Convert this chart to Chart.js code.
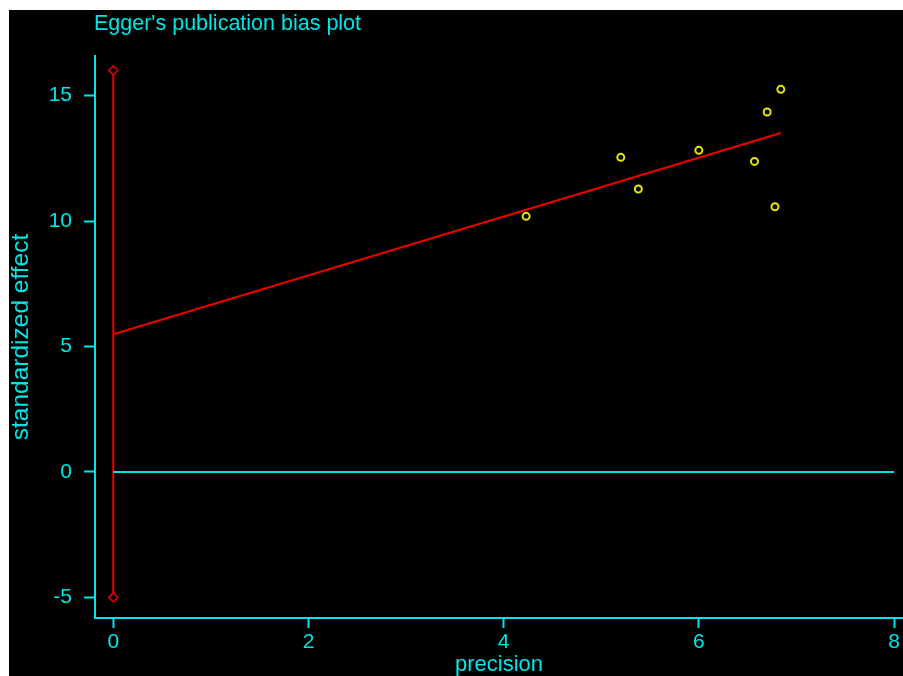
<!DOCTYPE html>
<html>
<head>
<meta charset="utf-8">
<script src="https://cdn.jsdelivr.net/npm/chart.js@4"></script>
<style>
  html, body { margin: 0; padding: 0; background: #ffffff; }
  #wrap { position: absolute; left: 9px; top: 10px; width: 894px; height: 666px; background: #000000; }
  canvas { display: block; }
</style>
</head>
<body>
<div id="wrap"><canvas id="egger" width="894" height="666"></canvas></div>
<script>
// studies: precision (x) and standardized effect (y)
const precision = [4.23, 5.20, 5.38, 6.00, 6.57, 6.70, 6.78, 6.84];
const standardizedEffect = [10.19, 12.54, 11.28, 12.82, 12.38, 14.35, 10.57, 15.25];

// fitted Egger regression line
const regressionX = [0, 6.84];
const regressionY = [5.49, 13.51];

// confidence interval of the intercept (vertical red line at x = 0)
const interceptCiX = [0, 0];
const interceptCiY = [-5, 16];

// reference line y = 0
const zeroLineX = [0, 8];
const zeroLineY = [0, 0];

const xTicks = [0, 2, 4, 6, 8];
const yTicks = [-5, 0, 5, 10, 15];

const CYAN = '#00e6e6';
const RED = '#ee0000';
const YELLOW = '#e6e600';
const FONT = "'Liberation Sans', Arial, sans-serif";

const toPoints = (xs, ys) => xs.map((x, i) => ({ x: x, y: ys[i] }));

// draws the title top left, like the original
const titlePlugin = {
    id: 'titleTopLeft',
    afterDraw(chart) {
        const c = chart.ctx;
        c.save();
        c.fillStyle = CYAN;
        c.font = '21.5px ' + FONT;
        c.textAlign = 'left';
        c.textBaseline = 'alphabetic';
        c.fillText("Egger's publication bias plot", 85, 20);
        c.restore();
    }
};

function fixBox(size, prop) {
    return function (scale) {
        scale[prop] = size;
        scale.paddingLeft = 0;
        scale.paddingRight = 0;
        scale.paddingTop = 0;
        scale.paddingBottom = 0;
    };
}

function setTicks(values) {
    return function (scale) {
        scale.ticks = values.map(v => ({ value: v }));
    };
}

new Chart(document.getElementById('egger').getContext('2d'), {
    type: 'scatter',
    data: {
        datasets: [
            {
                label: 'zero',
                data: toPoints(zeroLineX, zeroLineY),
                showLine: true,
                borderColor: CYAN,
                borderWidth: 2,
                pointRadius: 0
            },
            {
                label: 'intercept CI',
                data: toPoints(interceptCiX, interceptCiY),
                showLine: true,
                borderColor: RED,
                borderWidth: 2,
                pointStyle: 'rectRot',
                pointRadius: 4.5,
                pointBorderWidth: 1.5,
                pointBorderColor: RED,
                pointBackgroundColor: '#000000'
            },
            {
                label: 'regression',
                data: toPoints(regressionX, regressionY),
                showLine: true,
                borderColor: RED,
                borderWidth: 2,
                pointRadius: 0
            },
            {
                label: 'studies',
                data: toPoints(precision, standardizedEffect),
                showLine: false,
                pointStyle: 'circle',
                pointRadius: 3.5,
                pointBorderWidth: 2,
                pointBorderColor: YELLOW,
                pointBackgroundColor: '#000000'
            }
        ]
    },
    options: {
        responsive: false,
        animation: false,
        devicePixelRatio: 1,
        layout: { autoPadding: false, padding: { top: 46, left: 0, right: 0, bottom: 0 } },
        plugins: {
            legend: { display: false },
            tooltip: { enabled: false },
            title: { display: false }
        },
        scales: {
            x: {
                type: 'linear',
                min: -0.1875,
                max: 8.092,
                afterFit: fixBox(58, 'height'),
                afterBuildTicks: setTicks(xTicks),
                border: { display: true, color: CYAN, width: 2 },
                grid: { drawOnChartArea: false, drawTicks: true, tickLength: 10, tickColor: CYAN, tickWidth: 2 },
                ticks: { color: CYAN, font: { family: FONT, size: 21 }, padding: 2, maxRotation: 0 },
                title: {
                    display: true,
                    text: 'precision',
                    color: CYAN,
                    font: { family: FONT, size: 22, lineHeight: 1 },
                    padding: 0
                }
            },
            y: {
                type: 'linear',
                min: -5.82,
                max: 16.58,
                afterFit: fixBox(86, 'width'),
                afterBuildTicks: setTicks(yTicks),
                border: { display: true, color: CYAN, width: 2 },
                grid: { drawOnChartArea: false, drawTicks: true, tickLength: 11, tickColor: CYAN, tickWidth: 2 },
                ticks: { color: CYAN, font: { family: FONT, size: 21 }, padding: 12 },
                title: {
                    display: true,
                    text: 'standardized effect',
                    color: CYAN,
                    font: { family: FONT, size: 24.5, lineHeight: 1 },
                    padding: 0
                }
            }
        }
    },
    plugins: [titlePlugin]
});
</script>
</body>
</html>
